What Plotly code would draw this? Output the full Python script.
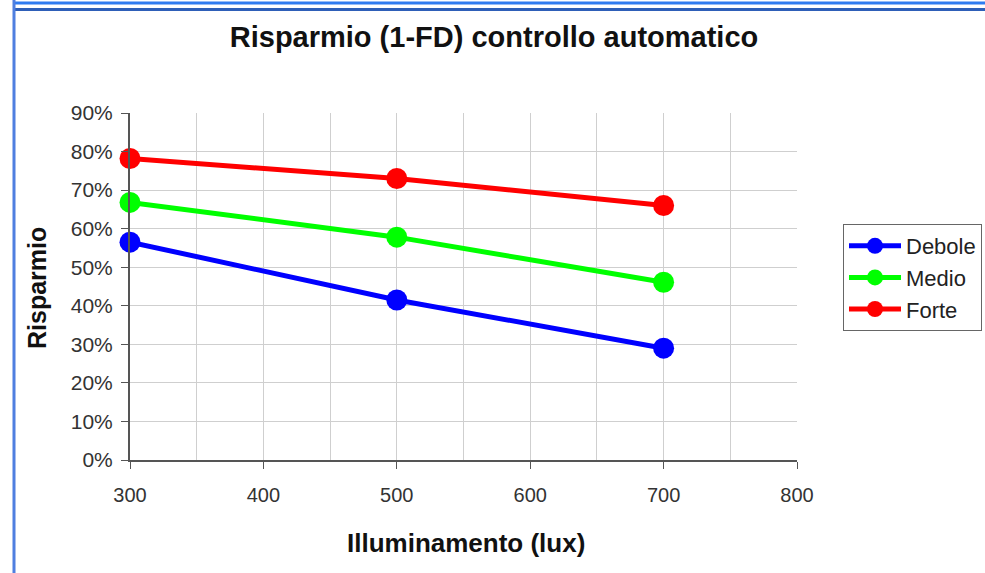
import plotly.graph_objects as go

# Illuminance levels (lux) and savings fractions per daylight class
illuminamento = [300, 500, 700]
debole = [0.565, 0.415, 0.29]
medio = [0.668, 0.578, 0.461]
forte = [0.782, 0.73, 0.66]

serie = [
    ("Debole", debole, "#0000FF"),
    ("Medio", medio, "#00FF00"),
    ("Forte", forte, "#FF0000"),
]

W, H = 985, 573
L, R, T, B = 130, 188, 113, 113
PW, PH = W - L - R, H - T - B


def px(x):
    return (x - L) / PW


def py(y):
    return (H - B - y) / PH


fig = go.Figure()
for nome, valori, colore in serie:
    fig.add_trace(go.Scatter(
        x=illuminamento, y=valori, name=nome, mode="lines+markers",
        line=dict(color=colore, width=5),
        marker=dict(color=colore, size=21),
        cliponaxis=False,
    ))

font = "Liberation Sans, Arial, sans-serif"

fig.update_layout(
    width=W, height=H,
    margin=dict(l=L, r=R, t=T, b=B, autoexpand=False),
    paper_bgcolor="white", plot_bgcolor="white",
    font=dict(family=font, color="#333333", size=20),
    title=dict(text="<b>Risparmio (1-FD) controllo automatico</b>",
               x=px(494), xanchor="center", xref="paper",
               y=1 - 37 / H, yanchor="middle",
               font=dict(size=29, color="#111111")),
    xaxis=dict(range=[300, 800], dtick=100, tick0=300,
               showgrid=True, gridcolor="#CFCFCF", gridwidth=1,
               minor=dict(dtick=50, showgrid=True, gridcolor="#CFCFCF", ticks=""),
               showline=True, linecolor="#555555", linewidth=2,
               ticks="outside", ticklen=7, tickcolor="#555555",
               ticklabelstandoff=9, zeroline=False,
               tickfont=dict(size=20, color="#333333")),
    yaxis=dict(range=[0, 0.9], dtick=0.1, tickformat=".0%",
               showgrid=True, gridcolor="#CFCFCF", gridwidth=1,
               showline=True, linecolor="#555555", linewidth=2,
               ticks="outside", ticklen=7, tickcolor="#555555",
               ticklabelstandoff=4, zeroline=False,
               tickfont=dict(size=21, color="#333333")),
    legend=dict(x=px(843), y=py(224), xanchor="left", yanchor="top",
                bordercolor="#666666", borderwidth=1, bgcolor="white",
                font=dict(size=22, color="#222222"), itemwidth=52,
                tracegroupgap=0),
    showlegend=True,
    annotations=[
        dict(text="<b>Risparmio</b>", xref="paper", yref="paper",
             x=px(37), y=py(288), textangle=-90, showarrow=False,
             xanchor="center", yanchor="middle",
             font=dict(size=25, color="#111111")),
        dict(text="<b>Illuminamento (lux)</b>", xref="paper", yref="paper",
             x=px(466), y=py(543), showarrow=False,
             xanchor="center", yanchor="middle",
             font=dict(size=26, color="#111111")),
    ],
    shapes=[
        dict(type="line", xref="paper", yref="paper",
             x0=px(14), x1=px(985), y0=py(3), y1=py(3),
             line=dict(color="#2F7BF0", width=3)),
        dict(type="line", xref="paper", yref="paper",
             x0=px(14), x1=px(985), y0=py(9.5), y1=py(9.5),
             line=dict(color="#2E5FB8", width=3)),
        dict(type="line", xref="paper", yref="paper",
             x0=px(14), x1=px(14), y0=py(0), y1=py(573),
             line=dict(color="#4F7FE0", width=3)),
    ],
)

fig.write_html("out.html")
